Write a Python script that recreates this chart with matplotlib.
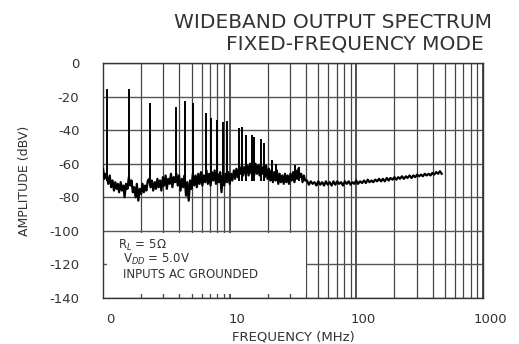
import matplotlib
matplotlib.use("Agg")
import matplotlib.pyplot as plt
import matplotlib.transforms as mtransforms
from matplotlib.patches import Rectangle
from matplotlib.ticker import FixedLocator, FixedFormatter, LogLocator, NullFormatter

# ---------------- data ----------------
noise_freq_low = [
    1.000, 1.025, 1.05, 1.076, 1.10, 1.13, 1.16, 1.19, 1.22, 1.25,
    1.28, 1.31, 1.34, 1.38, 1.41, 1.45, 1.48, 1.52, 1.56, 1.60,
    1.64, 1.68, 1.72, 1.76, 1.81, 1.85, 1.90, 1.95, 2.00, 2.05,
    2.10, 2.15, 2.20, 2.26, 2.32, 2.37, 2.43, 2.49, 2.56, 2.62,
    2.69, 2.75, 2.82, 2.89, 2.97, 3.04, 3.12, 3.19, 3.27, 3.36,
    3.44, 3.53, 3.62, 3.71, 3.80, 3.89, 3.99, 4.09, 4.20, 4.30,
    4.41, 4.52, 4.63, 4.75, 4.87, 4.99, 5.12, 5.25, 5.38, 5.51,
    5.65, 5.79, 5.94, 6.09, 6.24, 6.40, 6.56, 6.72, 6.89, 7.07,
    7.24, 7.43, 7.61, 7.80, 8.00, 8.20, 8.41, 8.62, 8.83, 9.06,
    9.28, 9.52, 9.76, 10.0,
]
noise_dbv_low = [
    -63, -69, -66, -68, -72, -67, -74, -70, -76, -71,
    -75, -72, -77, -71, -76, -73, -80, -72, -75, -68,
    -73, -70, -77, -74, -80, -72, -82, -75, -78, -72,
    -77, -73, -76, -70, -69, -74, -70, -76, -71, -75,
    -69, -74, -70, -76, -68, -73, -67, -75, -69, -72,
    -66, -74, -68, -71, -66, -73, -67, -76, -69, -74,
    -67, -79, -71, -82, -70, -75, -66, -73, -67, -74,
    -66, -72, -65, -73, -67, -71, -64, -72, -66, -73,
    -65, -70, -64, -72, -66, -71, -65, -77, -67, -73,
    -66, -71, -65, -72,
]
noise_freq_mid = [
    10.25, 10.5, 10.8, 11.05, 11.3, 11.6, 11.9, 12.2, 12.5, 12.8,
    13.1, 13.45, 13.8, 14.1, 14.5, 14.85, 15.2, 15.6, 16.0, 16.4,
    16.8, 17.2, 17.6, 18.05, 18.5, 18.95, 19.4, 19.9, 20.4, 20.9,
    21.4, 21.95, 22.5, 23.05, 23.6, 24.2, 24.8, 25.4, 26.05, 26.7,
    27.35, 28.0, 28.7, 29.4, 30.15, 30.9, 31.65, 32.45, 33.25, 34.05,
    34.9, 35.8, 36.7, 37.6, 38.5, 39.45,
]
noise_dbv_mid = [
    -66, -70, -64, -69, -63, -68, -62, -66, -61, -67,
    -62, -66, -61, -67, -60, -66, -61, -67, -60, -66,
    -61, -67, -60, -66, -62, -68, -61, -69, -63, -70,
    -64, -71, -65, -70, -64, -72, -66, -71, -67, -72,
    -66, -71, -67, -72, -66, -70, -65, -71, -64, -69,
    -63, -68, -66, -71, -67, -70,
]
noise_freq_high = [
    40.8, 42.2, 43.7, 45.2, 46.8, 48.4, 50.1, 51.9, 53.7, 55.6,
    57.5, 59.5, 61.6, 63.8, 66.0, 68.3, 70.7, 73.2, 75.8, 78.4,
    81.2, 84.0, 87.0, 90.0, 93.2, 96.4, 99.8, 103, 107, 111,
    115, 119, 123, 127, 132, 136, 141, 146, 151, 157,
    162, 168, 174, 180, 186, 193, 200, 207, 214, 221,
    229, 237, 246, 254, 263, 273, 282, 292, 302, 313,
    324, 335, 347, 359, 372, 385, 398, 412, 427, 442,
    457, 472,
]
noise_dbv_high = [
    -70, -72.5, -70.5, -72, -71, -73, -70.5, -72.5, -71, -73,
    -70.5, -72.5, -71, -73, -70.5, -72.5, -70.5, -72, -71, -73,
    -70.5, -72, -70.5, -72.5, -71, -72, -70, -72, -70.5, -71.5,
    -70, -71.5, -69.5, -71, -70, -71, -69.5, -70.5, -69, -70.5,
    -69, -70.5, -68.5, -70, -68.5, -69.5, -68, -69.5, -68, -69,
    -67.5, -69, -67.5, -68.5, -67, -68.5, -67, -68, -66.5, -67.5,
    -66.5, -67.5, -66, -67, -66, -67, -65.5, -66.5, -65, -66,
    -64.5, -66,
]

spike_freq_mhz = [1.08, 1.61, 2.36, 3.8, 4.4, 5.1, 6.45, 7.1, 7.9, 8.9, 9.6,
                  11.8, 12.4, 13.4, 14.9, 15.5, 17.6, 18.6, 21.6, 23.2, 33, 35]
spike_peak_dbv = [-15.5, -15.5, -24, -26, -22.5, -24, -30, -33, -34, -35, -34.5,
                  -38.5, -38, -43, -43, -44, -45, -47.5, -58, -60, -61, -62]
spike_base_dbv = -70

x_ticks = [1, 10, 100, 1000]
x_tick_labels = ["0", "10", "100", "1000"]
y_ticks = [0, -20, -40, -60, -80, -100, -120, -140]

title_lines = ["WIDEBAND OUTPUT SPECTRUM", "FIXED-FREQUENCY MODE"]
note_lines = [r"R$_{L}$ = 5$\Omega$", r"V$_{DD}$ = 5.0V", "INPUTS AC GROUNDED"]

# ---------------- figure ----------------
plt.rcParams['font.family'] = ['DejaVu Sans']
W, H = 519, 344
fig = plt.figure(figsize=(W / 100, H / 100), dpi=100)
fig.patch.set_facecolor("white")
ax = fig.add_axes([103 / W, 1 - 298 / H, (483 - 103) / W, (298 - 63) / H])

ax.set_xscale("log")
ax.set_xlim(1, 1000)
ax.set_ylim(-140, 0)

ax.xaxis.set_major_locator(FixedLocator(x_ticks))
ax.xaxis.set_major_formatter(FixedFormatter(x_tick_labels))
ax.xaxis.set_minor_locator(LogLocator(base=10, subs=range(2, 10)))
ax.xaxis.set_minor_formatter(NullFormatter())
ax.set_yticks(y_ticks)
ax.set_yticklabels([str(v) for v in y_ticks])

ax.set_axisbelow(True)
ax.grid(True, which="major", axis="y", color="#555555", lw=1.0)
ax.grid(True, which="major", axis="x", color="#333333", lw=1.2)
ax.grid(True, which="minor", axis="x", color="#444444", lw=0.9)

ax.tick_params(axis="both", which="both", direction="in", length=0,
               labelsize=9.5, colors="#333333")
ax.tick_params(axis="y", pad=17)
ax.tick_params(axis="x", pad=11)
offset = mtransforms.ScaledTranslation(7 / 100, 0, fig.dpi_scale_trans)
for lab in ax.get_xticklabels():
    lab.set_transform(lab.get_transform() + offset)

for s in ax.spines.values():
    s.set_color("#333333")
    s.set_linewidth(1.0)

# white box behind the note text (grid visible only as short ticks)
ax.add_patch(Rectangle((1.07, -137.5), 40 - 1.07, 36.5, facecolor="white",
                       edgecolor="none", zorder=1))

# spectrum
trace_f = noise_freq_low + noise_freq_mid + noise_freq_high
trace_a = noise_dbv_low + noise_dbv_mid + noise_dbv_high
ax.plot(trace_f, trace_a, color="black", lw=1.6, zorder=3)
ax.vlines(spike_freq_mhz, spike_base_dbv, spike_peak_dbv, color="black", lw=1.4, zorder=3)

# notes
note_x = [1.32, 1.45, 1.45]
note_y = [-108.4, -117.2, -126.0]
for txt, xv, yv in zip(note_lines, note_x, note_y):
    ax.text(xv, yv, txt, fontsize=8.5, color="#333333", va="center", ha="left", zorder=4)

ax.set_ylabel("AMPLITUDE (dBV)", fontsize=9, color="#333333", labelpad=13)
ax.set_xlabel("FREQUENCY (MHz)", fontsize=9.5, color="#333333", labelpad=3)

fig.text(492 / W, 1 - 22 / H, title_lines[0], fontsize=14.5, color="#333333",
         ha="right", va="center")
fig.text(484 / W, 1 - 44 / H, title_lines[1], fontsize=14.5, color="#333333",
         ha="right", va="center")

fig.savefig("out.png", dpi=100, facecolor="white")
